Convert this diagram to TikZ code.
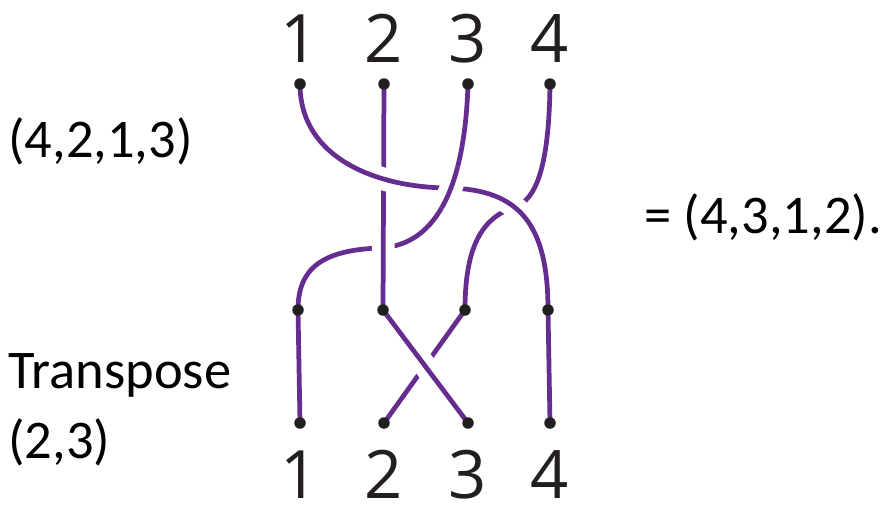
\documentclass[tikz,border=0pt]{standalone}
\usepackage{fontspec}
\setmainfont{Carlito}
\newfontfamily\numfont{Open Sans}
\definecolor{braid}{RGB}{102,45,145}
\definecolor{ink}{RGB}{35,31,32}
\begin{document}
\begin{tikzpicture}[x=0.2mm,y=-0.2mm,
  strand/.style={line width=2.7pt,draw=braid},
  over/.style={preaction={draw=white,line width=13pt}},
  dot/.style={circle,fill=ink,inner sep=0pt,minimum size=0.23cm},
  num/.style={font=\numfont\fontsize{38}{46}\selectfont,text=ink,anchor=base,inner sep=0pt},
  txt/.style={font=\fontsize{31}{37}\selectfont,anchor=base west,inner sep=0pt}]
  \useasboundingbox (0,0) rectangle (882,507);
  % dot positions
  \foreach \i/\x in {1/300,2/384,3/468,4/550} {
    \coordinate (t\i) at (\x,84);
    \coordinate (b\i) at (\x,423);
    \node[num] (top\i) at (\x,62) {\i};
    \node[num] (bot\i) at (\x,498) {\i};
  }
  \coordinate (m1) at (298,310);
  \coordinate (m2) at (383,310);
  \coordinate (m3) at (465,310);
  \coordinate (m4) at (548,310);
  % permutation (4,2,1,3)
  \draw[strand] (t2) -- (m2);
  \draw[strand] (t4) .. controls (549,170) and (535,200) .. (515,207)
    .. controls (480,218) and (465,250) .. (m3);
  \draw[strand] (t3) .. controls (465,180) and (440,245) .. (380,248)
    .. controls (320,250) and (298,270) .. (m1);
  \draw[strand,over] (t1) .. controls (300,160) and (380,188) .. (450,188)
    .. controls (520,190) and (548,225) .. (m4);
  \begin{scope}
    \clip (451,188) circle (22);
    \draw[strand,over] (t3) .. controls (465,180) and (440,245) .. (380,248);
  \end{scope}
  \begin{scope}
    \clip (383,247) circle (22);
    \draw[strand,over] (t2) -- (m2);
  \end{scope}
  % transposition (2,3)
  \draw[strand] (m1) -- (b1);
  \draw[strand] (m4) -- (b4);
  \draw[strand] (m3) -- (b2);
  \draw[strand,over] (m2) -- (b3);
  \foreach \p in {t1,t2,t3,t4,m1,m2,m3,m4,b1,b2,b3,b4}
    \node[dot] (\p-dot) at (\p) {};
  % labels
  \node[txt] (perm) at (8,157) {(4,2,1,3)};
  \node[txt] (trans) at (8,388) {Transpose};
  \node[txt] (pair) at (8,458) {(2,3)};
  \node[txt] (result) at (644,233) {= (4,3,1,2).};
\end{tikzpicture}
\end{document}
